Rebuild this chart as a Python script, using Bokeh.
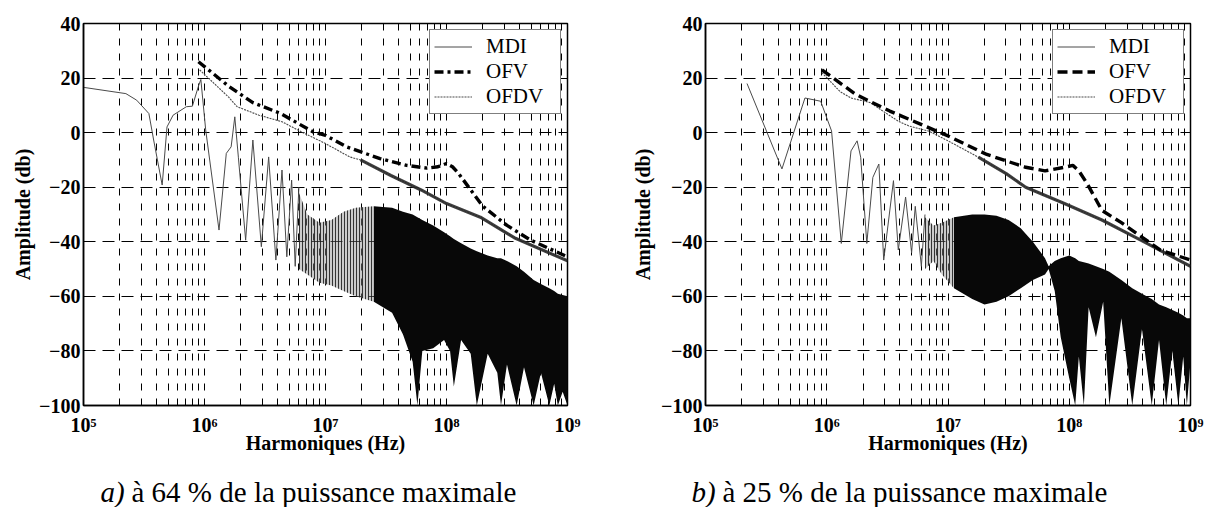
from bokeh.plotting import figure
from bokeh.models import FixedTicker, Legend, LegendItem, Label, Range1d
from bokeh.layouts import row, column
from bokeh.embed import file_html
from bokeh.resources import INLINE

SERIF = "Liberation Serif"

# ---------------- axes ----------------
X_MAJOR = [1e5, 1e6, 1e7, 1e8, 1e9]
X_LABELS = ["10\u2075", "10\u2076", "10\u2077", "10\u2078", "10\u2079"]
X_MINOR = [m * d for d in (1e5, 1e6, 1e7, 1e8) for m in range(2, 10)]
Y_TICKS = [-100, -80, -60, -40, -20, 0, 20, 40]

# ---------------- panel a (64 %) ----------------
a_mdi_f = [1.0e5, 2.24e5, 2.75e5, 3.47e5, 3.8e5, 4.47e5, 4.9e5, 5.5e5, 7.08e5, 7.94e5,
           8.91e5, 9.33e5, 1.023e6, 1.318e6, 1.514e6, 1.66e6, 1.78e6, 1.905e6, 2.188e6,
           2.51e6, 2.95e6, 3.39e6, 3.89e6, 4.37e6, 4.79e6, 5.25e6, 5.62e6, 6.03e6]
a_mdi_db = [16.6, 14.3, 11.9, 7.0, -2.7, -19.2, 2.1, 6.4, 9.5, 9.7,
            17.0, 19.5, 1.0, -35.7, -7.6, -5.2, 5.8, -9.0, -39.4,
            -2.7, -41.8, -8.9, -46.7, -13.7, -45.5, -17.4, -49.0, -20.0]

a_band_f = [6.03e6, 7.08e6, 8.91e6, 1.12e7, 1.41e7, 1.78e7, 2.51e7, 3.55e7, 4.37e7, 5.25e7,
            5.75e7, 6.31e7, 7.76e7, 9.55e7, 1.07e8, 1.15e8, 1.32e8, 1.585e8, 1.78e8, 2.19e8,
            2.63e8, 2.82e8, 3.16e8, 3.8e8, 4.37e8, 5.25e8, 6.03e8, 7.08e8, 7.76e8, 8.32e8,
            9.12e8, 1.0e9]
a_band_hi = [-22, -30, -33, -32, -29, -27.5, -27, -27.5, -29, -30,
             -31, -32, -34, -36.5, -38, -39, -40.5, -42.5, -43.5, -45,
             -46, -46, -47, -49, -51, -54, -55.5, -57, -58, -59,
             -59.5, -60]
a_band_lo = [-50, -52, -55, -56, -58, -60, -62, -66, -74, -84,
             -100, -80, -79, -76, -80, -93, -76, -81, -100, -81,
             -88, -100, -85, -100, -86, -100, -88, -100, -92, -100,
             -95, -100]
a_band_split = 6  # index where the band becomes solid

a_ofv_f = [8.91e5, 1.585e6, 2.51e6, 4.27e6, 7.94e6, 1.0e7, 1.51e7, 2.82e7, 4.68e7, 6.92e7,
           8.51e7, 1.0e8, 1.12e8, 1.26e8, 1.585e8, 2.0e8, 3.16e8, 5.01e8, 7.08e8, 1.0e9]
a_ofv_db = [26, 17, 11, 7, 0.2, -1, -5.3, -9.5, -12, -13,
            -12.5, -11.3, -12.5, -15, -21, -27, -34, -39.5, -42.5, -45.5]

a_ofdv_f = [9.12e5, 1.585e6, 1.862e6, 2.82e6, 4.37e6, 6.31e6, 1.0e7, 1.585e7, 1.95e7, 3.47e7,
            6.17e7, 1.0e8, 1.905e8, 3.63e8, 1.0e9]
a_ofdv_db = [23, 13, 9.5, 6.4, 4, 0.3, -4, -8.9, -10, -15.7,
             -21, -26, -31, -38.5, -47]
a_ofdv_rough = 8  # index from which the OFDV trace is jagged / thick

# ---------------- panel b (25 %) ----------------
b_mdi_f = [2.2e5, 4.27e5, 6.61e5, 8.91e5, 1.096e6, 1.318e6, 1.585e6, 1.78e6, 1.905e6, 2.14e6,
           2.4e6, 2.69e6, 2.95e6, 3.55e6, 3.89e6, 4.47e6, 5.01e6, 5.37e6, 6.03e6, 6.46e6]
b_mdi_db = [18, -13.3, 12.7, 11.5, 0.6, -40.6, -6.7, -3, -9, -40.6,
            -16.4, -11.5, -46.7, -17.6, -43, -23.6, -44, -27, -49, -30]

b_band_f = [6.46e6, 7.59e6, 8.91e6, 1.12e7, 1.585e7, 2.0e7, 2.51e7, 3.16e7, 3.98e7, 5.01e7,
            6.31e7, 6.76e7, 7.59e7, 8.51e7, 1.0e8, 1.12e8, 1.2e8, 1.32e8, 1.445e8, 1.66e8,
            1.905e8, 2.14e8, 2.69e8, 3.31e8, 3.98e8, 4.79e8, 5.5e8, 6.31e8, 7.08e8, 7.94e8,
            8.71e8, 9.33e8, 1.0e9]
b_band_hi = [-31, -34, -33, -31, -30, -30, -30.5, -32, -35, -40,
             -46, -49, -47, -46, -45, -46, -47, -47.5, -48, -49,
             -50, -51, -54, -57, -59, -61, -63, -64, -65, -66,
             -67, -68, -68]
b_band_lo = [-50, -47, -52, -57, -61, -63, -62, -60, -57, -54,
             -52, -50, -58, -75, -90, -100, -82, -100, -64, -75,
             -62, -100, -68, -100, -72, -100, -76, -100, -80, -100,
             -82, -100, -84]
b_band_split = 3

b_ofv_f = [9.12e5, 1.738e6, 3.31e6, 1.0e7, 2.09e7, 4.37e7, 6.31e7, 9.12e7, 1.07e8, 1.2e8,
           1.41e8, 1.86e8, 2.69e8, 3.89e8, 5.62e8, 1.0e9]
b_ofv_db = [23, 14, 7.9, -1.2, -8, -12.7, -14, -12.7, -12, -14,
            -18.8, -28.5, -33, -38, -43, -46.7]

b_ofdv_f = [9.12e5, 1.29e6, 1.585e6, 2.29e6, 2.88e6, 3.89e6, 4.79e6, 6.92e6, 1.0e7, 1.78e7,
            3.02e7, 4.37e7, 9.12e7, 1.86e8, 3.89e8, 1.0e9]
b_ofdv_db = [22, 15, 12.7, 11, 8, 4.2, 2.4, 0.6, -3, -9,
             -15, -20, -26, -32, -39.4, -49]
b_ofdv_rough = 9

CAPTION_A = ("a)", "à 64 % de la puissance maximale")
CAPTION_B = ("b)", "à 25 % de la puissance maximale")

PANEL_H = 463


def panel(mdi_f, mdi_db, band_f, band_hi, band_lo, split,
          ofv_f, ofv_db, ofv_dash, ofdv_f, ofdv_db, rough,
          border_left, border_right, border_top, frame_w, ylabel_standoff):
    p = figure(x_axis_type="log", x_range=Range1d(1e5, 1e9), y_range=Range1d(-100, 40),
               frame_width=frame_w, frame_height=382,
               min_border_left=border_left, min_border_right=border_right,
               min_border_top=border_top, min_border_bottom=PANEL_H - border_top - 382,
               output_backend="svg", toolbar_location=None,
               background_fill_color="white", border_fill_color="white")
    p.outline_line_color = "black"
    p.outline_line_width = 1.5

    xa = p.xaxis[0]
    xa.ticker = FixedTicker(ticks=X_MAJOR, minor_ticks=X_MINOR)
    xa.major_label_overrides = {int(v): t for v, t in zip(X_MAJOR, X_LABELS)}
    ya = p.yaxis[0]
    ya.ticker = FixedTicker(ticks=Y_TICKS, minor_ticks=[])
    for ax in (xa, ya):
        ax.axis_line_color = "black"
        ax.axis_line_width = 1.5
        ax.major_tick_in = 6
        ax.major_tick_out = 0
        ax.minor_tick_in = 3
        ax.minor_tick_out = 0
        ax.major_tick_line_color = "black"
        ax.minor_tick_line_color = "black"
        ax.major_label_text_font = SERIF
        ax.major_label_text_font_size = "20px"
        ax.major_label_text_font_style = "bold"
        ax.major_label_text_color = "black"
        ax.axis_label_text_font = SERIF
        ax.axis_label_text_font_size = "20px"
        ax.axis_label_text_font_style = "bold"
        ax.axis_label_text_color = "black"
    xa.axis_label = "Harmoniques (Hz)"
    xa.major_label_standoff = 8
    xa.axis_label_standoff = -7
    ya.axis_label = "Amplitude (db)"
    ya.major_label_standoff = 3
    ya.axis_label_standoff = ylabel_standoff

    p.xgrid.grid_line_color = "black"
    p.xgrid.grid_line_dash = "7 8"
    p.xgrid.grid_line_width = 1
    p.xgrid.minor_grid_line_color = "black"
    p.xgrid.minor_grid_line_dash = "7 8"
    p.xgrid.minor_grid_line_width = 1
    p.ygrid.grid_line_color = "black"
    p.ygrid.grid_line_dash = "12 7"
    p.ygrid.grid_line_width = 1

    # dense harmonic region of the MDI spectrum
    p.varea(x=band_f[:split + 1], y1=band_lo[:split + 1], y2=band_hi[:split + 1],
            fill_color="#8c8c8c", fill_alpha=0.45,
            hatch_pattern="vertical_line", hatch_color="#1a1a1a", hatch_scale=3.0,
            hatch_weight=1.0, hatch_alpha=0.85)
    p.varea(x=band_f[split:], y1=band_lo[split:], y2=band_hi[split:],
            fill_color="#080808")

    mdi = p.line(mdi_f, mdi_db, line_color="#4a4a4a", line_width=1.0)
    ofdv = p.line(ofdv_f, ofdv_db, line_color="#4a4a4a", line_width=1.1, line_dash="2 1")
    p.line(ofdv_f[rough:], ofdv_db[rough:], line_color="#2a2a2a", line_width=3.2, line_alpha=0.9)
    ofv = p.line(ofv_f, ofv_db, line_color="black", line_width=3.4, line_dash=ofv_dash)

    legend = Legend(items=[LegendItem(label="MDI", renderers=[mdi]),
                           LegendItem(label="OFV", renderers=[ofv]),
                           LegendItem(label="OFDV", renderers=[ofdv])],
                    location="top_right", margin=6, padding=4, spacing=0,
                    glyph_width=38, glyph_height=25, label_height=25, label_width=70,
                    label_standoff=14,
                    label_text_font=SERIF, label_text_font_size="21px",
                    label_text_color="black",
                    border_line_color="black", border_line_width=1.5,
                    background_fill_color="white", background_fill_alpha=1.0)
    p.add_layout(legend)
    return p


# page pixels (the page has no body margin): panel a frame x 83..567, y 23..405
pa = panel(a_mdi_f, a_mdi_db, a_band_f, a_band_hi, a_band_lo, a_band_split,
           a_ofv_f, a_ofv_db, "9 4 3 4", a_ofdv_f, a_ofdv_db, a_ofdv_rough,
           83, 53, 23, 484, 2)
# panel b frame x 705..1190, y 21..403
pb = panel(b_mdi_f, b_mdi_db, b_band_f, b_band_hi, b_band_lo, b_band_split,
           b_ofv_f, b_ofv_db, "10 5", b_ofdv_f, b_ofdv_db, b_ofdv_rough,
           85, 14, 21, 485, 4)

# caption strip below the two panels (page pixels: y 463..507)
cap = figure(width=1204, height=44, x_range=Range1d(0, 1204), y_range=Range1d(507, 463),
             min_border=0, output_backend="svg", toolbar_location=None,
             x_axis_location=None, y_axis_location=None,
             background_fill_color="white", border_fill_color="white")
cap.outline_line_color = None
cap.grid.visible = False
for cx, (c1, c2) in ((100, CAPTION_A), (691, CAPTION_B)):
    cap.add_layout(Label(x=cx, y=491, text=c1, text_font=SERIF, text_font_size="29px",
                         text_font_style="italic", text_baseline="middle", text_color="black"))
    cap.add_layout(Label(x=cx + 31, y=491, text=c2, text_font=SERIF, text_font_size="29px",
                         text_baseline="middle", text_color="black"))

layout = column(row(pa, pb, spacing=0), cap, spacing=0)
open("out.html", "w").write(file_html(layout, INLINE))
